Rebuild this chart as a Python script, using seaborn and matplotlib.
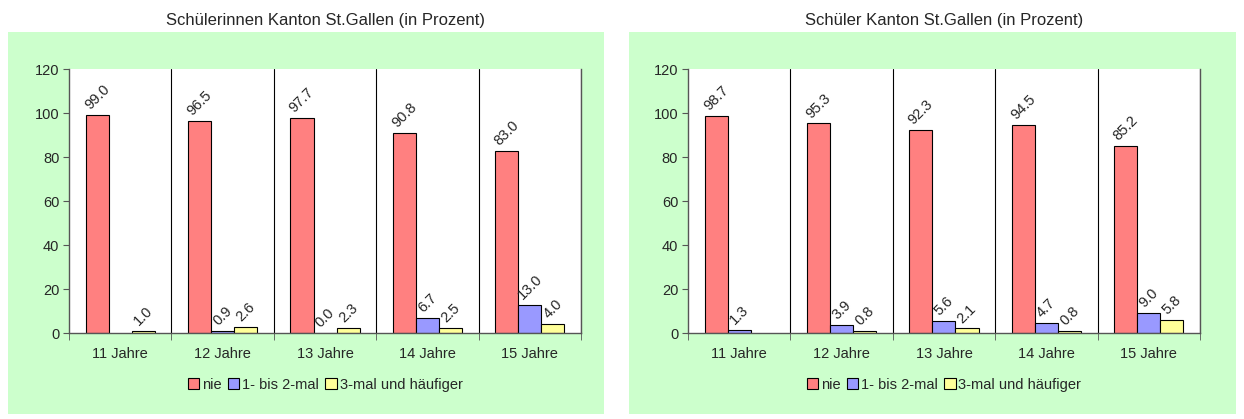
import numpy as np
import pandas as pd
import seaborn as sns
import matplotlib.pyplot as plt
from matplotlib.patches import Rectangle, Patch

# ===============================
# Daten
# ===============================
jahre = ["11 Jahre", "12 Jahre", "13 Jahre", "14 Jahre", "15 Jahre"]
kategorien = ["nie", "1- bis 2-mal", "3-mal und häufiger"]

# Schülerinnen (Mädchen)
maedchen_nie = [99.0, 96.5, 97.7, 90.8, 83.0]
maedchen_1_2 = [np.nan, 0.9, 0.0, 6.7, 13.0]
maedchen_3 = [1.0, 2.6, 2.3, 2.5, 4.0]

# Schüler (Knaben)
knaben_nie = [98.7, 95.3, 92.3, 94.5, 85.2]
knaben_1_2 = [1.3, 3.9, 5.6, 4.7, 9.0]
knaben_3 = [np.nan, 0.8, 2.1, 0.8, 5.8]

titel = [
    "Schülerinnen Kanton St.Gallen (in Prozent)",
    "Schüler Kanton St.Gallen (in Prozent)",
]

farben = ["#FF8080", "#9999FF", "#FFFF99"]
gruen = "#CCFFCC"


def make_df(nie, ein_zwei, drei):
    rows = []
    for werte, kat in zip([nie, ein_zwei, drei], kategorien):
        for j, v in zip(jahre, werte):
            rows.append({"jahr": j, "kategorie": kat, "wert": v})
    return pd.DataFrame(rows)


daten = [
    make_df(maedchen_nie, maedchen_1_2, maedchen_3),
    make_df(knaben_nie, knaben_1_2, knaben_3),
]

# ===============================
# Figur
# ===============================
sns.set_style("white")
plt.rcParams["font.family"] = ["Liberation Sans", "DejaVu Sans"]
plt.rcParams["font.size"] = 10

fig = plt.figure(figsize=(12.44, 4.19), dpi=100)
fig.patch.set_facecolor("white")

# gruene Diagrammflaechen
boxen = [(0.0064, 0.012, 0.479, 0.912), (0.506, 0.012, 0.4876, 0.912)]
for b in boxen:
    fig.patches.append(
        Rectangle((b[0], b[1]), b[2], b[3], transform=fig.transFigure,
                  facecolor=gruen, edgecolor="none", zorder=-10)
    )

achsen_pos = [(0.0555, 0.205, 0.4116, 0.63), (0.553, 0.205, 0.4116, 0.63)]

for i, df in enumerate(daten):
    ax = fig.add_axes(achsen_pos[i])
    ax.set_facecolor("white")
    sns.barplot(
        data=df, x="jahr", y="wert", hue="kategorie",
        order=jahre, hue_order=kategorien, palette=farben, saturation=1,
        width=0.675, edgecolor="black", linewidth=0.8,
        errorbar=None, legend=False, ax=ax,
    )

    # Werte beschriften
    for cont in ax.containers:
        for bar in cont:
            h = bar.get_height()
            if np.isnan(h):
                continue
            ax.annotate(
                f"{h:.1f}",
                (bar.get_x() + bar.get_width() / 2, h),
                xytext=(0, 2), textcoords="offset points",
                rotation=45, ha="center", va="bottom", fontsize=10.5,
            )

    ax.set_xlim(-0.5, len(jahre) - 0.5)
    ax.set_ylim(0, 120)
    ax.set_yticks(range(0, 121, 20))
    ax.set_xlabel("")
    ax.set_ylabel("")

    # senkrechte Trennlinien
    for x in np.arange(0.5, len(jahre), 1.0):
        ax.axvline(x, color="black", linewidth=0.8, zorder=0)

    ax.spines["top"].set_visible(False)
    for s in ["left", "bottom", "right"]:
        ax.spines[s].set_color("#555555")
        ax.spines[s].set_linewidth(1.0)

    ax.set_xticks(np.arange(-0.5, len(jahre), 1.0), minor=True)
    ax.tick_params(axis="x", which="major", length=0, pad=10, labelsize=10.5)
    ax.tick_params(axis="x", which="minor", length=5, direction="out",
                   color="#555555", bottom=True)
    ax.tick_params(axis="y", length=4, direction="out", color="#555555",
                   left=True, labelsize=10.5, pad=3)

    fig.text(achsen_pos[i][0] + achsen_pos[i][2] / 2, 0.952, titel[i],
             ha="center", va="center", fontsize=12)

    handles = [Patch(facecolor=c, edgecolor="black", linewidth=0.8) for c in farben]
    fig.legend(
        handles, kategorien, loc="center",
        bbox_to_anchor=(achsen_pos[i][0] + achsen_pos[i][2] / 2, 0.082),
        ncol=3, frameon=False, fontsize=10.5,
        handlelength=0.8, handleheight=0.8, handletextpad=0.2,
        columnspacing=0.4,
    )

fig.savefig("out.png", dpi=100)
